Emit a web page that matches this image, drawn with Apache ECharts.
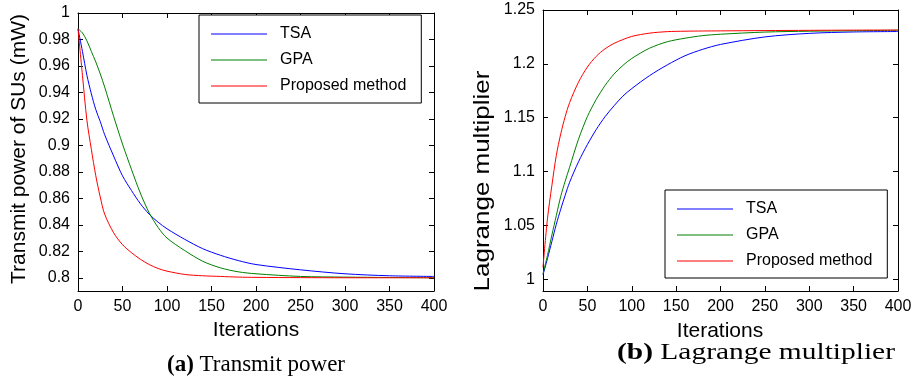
<!DOCTYPE html>
<html>
<head>
<meta charset="utf-8">
<script src="https://cdn.jsdelivr.net/npm/echarts@6/dist/echarts.min.js"></script>
<style>
html, body { margin: 0; padding: 0; background: #fff; }
#main { width: 917px; height: 378px; }
</style>
</head>
<body>
<div id="main"></div>
<script>
// iterations
var iters = [0, 5, 10, 15, 20, 25, 30, 40, 50, 60, 70, 80, 90, 100, 120, 140, 160, 180, 200, 250, 300, 350, 400];
var names = ['TSA', 'GPA', 'Proposed method'];

// (a) transmit power (mW)
var powerTSA  = [0.988, 0.971, 0.953, 0.939, 0.927, 0.918, 0.908, 0.892, 0.877, 0.866, 0.856, 0.848, 0.842, 0.837, 0.829, 0.822, 0.817, 0.813, 0.810, 0.806, 0.803, 0.8015, 0.801];
var powerGPA  = [0.988, 0.985, 0.979, 0.971, 0.963, 0.954, 0.944, 0.922, 0.901, 0.882, 0.864, 0.849, 0.838, 0.830, 0.8205, 0.8125, 0.8075, 0.8045, 0.803, 0.801, 0.8005, 0.8002, 0.800];
var powerProp = [0.988, 0.953, 0.919, 0.897, 0.877, 0.861, 0.848, 0.834, 0.825, 0.819, 0.814, 0.810, 0.807, 0.805, 0.8025, 0.8015, 0.801, 0.8005, 0.8003, 0.8001, 0.800, 0.800, 0.800];

// (b) lagrange multiplier
var lagTSA  = [1.004, 1.019, 1.035, 1.051, 1.065, 1.078, 1.090, 1.109, 1.125, 1.139, 1.151, 1.161, 1.170, 1.177, 1.189, 1.199, 1.2075, 1.2135, 1.218, 1.225, 1.2283, 1.2296, 1.230];
var lagGPA  = [1.005, 1.022, 1.041, 1.059, 1.077, 1.091, 1.104, 1.130, 1.151, 1.167, 1.180, 1.1905, 1.1985, 1.205, 1.2145, 1.2205, 1.2238, 1.2262, 1.2275, 1.2295, 1.2303, 1.2307, 1.2312];
var lagProp = [1.011, 1.056, 1.087, 1.115, 1.135, 1.151, 1.164, 1.183, 1.197, 1.207, 1.214, 1.219, 1.2225, 1.2255, 1.2285, 1.2299, 1.2303, 1.2305, 1.2306, 1.2309, 1.2311, 1.2313, 1.2314];

var yTicksPower = [0.8, 0.82, 0.84, 0.86, 0.88, 0.9, 0.92, 0.94, 0.96, 0.98, 1];
var yTicksLag = [1, 1.05, 1.1, 1.15, 1.2, 1.25];

var colors = ['#0000ff', '#008000', '#ff0000'];
var sans = 'Liberation Sans, Arial, sans-serif';
var serif = 'Liberation Serif, Times New Roman, serif';

function pairs(xs, ys) {
    return xs.map(function (x, i) { return [x, ys[i]]; });
}

function xAxisOf(grid, pos) {
    return {
        type: 'value', gridIndex: grid, position: pos,
        min: 0, max: 400, interval: 50,
        axisLine: { show: true, onZero: false, lineStyle: { color: '#000', width: 1 } },
        axisTick: { show: true, inside: true, length: 5, lineStyle: { color: '#000' } },
        axisLabel: { show: pos === 'bottom', color: '#000', fontSize: 16, fontFamily: sans, margin: 8 },
        splitLine: { show: false }
    };
}

function yAxisOf(grid, pos, min, max, ticks) {
    return {
        type: 'value', gridIndex: grid, position: pos,
        min: min, max: max,
        axisLine: { show: true, onZero: false, lineStyle: { color: '#000', width: 1 } },
        axisTick: { show: true, inside: true, length: 5, customValues: ticks, lineStyle: { color: '#000' } },
        axisLabel: { show: pos === 'left', customValues: ticks, color: '#000', fontSize: 16, fontFamily: sans, margin: 8 },
        splitLine: { show: false }
    };
}

function legendAt(left, top) {
    return {
        data: names, orient: 'vertical', left: left, top: top,
        backgroundColor: '#fff', borderColor: '#000', borderWidth: 1,
        padding: [11, 15, 9, 12],
        icon: 'path://M0,0H56V1H0Z', symbolKeepAspect: true,
        itemWidth: 56, itemHeight: 14, itemGap: 10,
        textStyle: { fontSize: 16, fontFamily: sans, color: '#000', padding: [0, 0, 0, 8] }
    };
}

var series = [];
[[powerTSA, powerGPA, powerProp], [lagTSA, lagGPA, lagProp]].forEach(function (set, g) {
    set.forEach(function (ys, i) {
        series.push({
            name: names[i], type: 'line',
            xAxisIndex: g * 2, yAxisIndex: g * 2,
            data: pairs(iters, ys),
            symbol: 'none', smooth: 0.3,
            color: colors[i],
            lineStyle: { width: 1, color: colors[i] }
        });
    });
});

var chart = echarts.init(document.getElementById('main'));
var option = {
    backgroundColor: '#fff',
    animation: false,
    grid: [
        { left: 78, top: 13, width: 356, height: 278 },
        { left: 543, top: 10, width: 355, height: 281 }
    ],
    xAxis: [xAxisOf(0, 'bottom'), xAxisOf(0, 'top'), xAxisOf(1, 'bottom'), xAxisOf(1, 'top')],
    yAxis: [
        yAxisOf(0, 'left', 0.79, 1, yTicksPower), yAxisOf(0, 'right', 0.79, 1, yTicksPower),
        yAxisOf(1, 'left', 0.989, 1.25, yTicksLag), yAxisOf(1, 'right', 0.989, 1.25, yTicksLag)
    ],
    legend: [legendAt(199, 15), legendAt(665, 190)],
    series: series,
    graphic: [
        { type: 'text', x: 256, y: 330, style: { text: 'Iterations', font: '21px ' + sans, fill: '#000', align: 'center', verticalAlign: 'middle', textAlign: 'center', textVerticalAlign: 'middle' } },
        { type: 'text', x: 720, y: 331, style: { text: 'Iterations', font: '21px ' + sans, fill: '#000', align: 'center', verticalAlign: 'middle', textAlign: 'center', textVerticalAlign: 'middle' } },
        { type: 'text', x: 19, y: 149, rotation: Math.PI / 2, style: { text: 'Transmit power of SUs (mW)', font: '21px ' + sans, fill: '#000', align: 'center', verticalAlign: 'middle', textAlign: 'center', textVerticalAlign: 'middle' } },
        { type: 'text', x: 483, y: 181, rotation: Math.PI / 2, scaleX: 1.18, style: { text: 'Lagrange multiplier', font: '22px ' + sans, fill: '#000', align: 'center', verticalAlign: 'middle', textAlign: 'center', textVerticalAlign: 'middle' } },
        { type: 'text', x: 256, y: 365, style: { text: '{b|(a)} Transmit power', rich: { b: { fontWeight: 'bold', fontFamily: serif, fontSize: 23 } }, fontFamily: serif, fontSize: 23, fill: '#000', align: 'center', verticalAlign: 'middle', textAlign: 'center', textVerticalAlign: 'middle' } },
        { type: 'text', x: 756, y: 353, scaleX: 1.28, style: { text: '{b|(b)} Lagrange multiplier', rich: { b: { fontWeight: 'bold', fontFamily: serif, fontSize: 23 } }, fontFamily: serif, fontSize: 23, fill: '#000', align: 'center', verticalAlign: 'middle', textAlign: 'center', textVerticalAlign: 'middle' } }
    ]
};
chart.setOption(option);
</script>
</body>
</html>
